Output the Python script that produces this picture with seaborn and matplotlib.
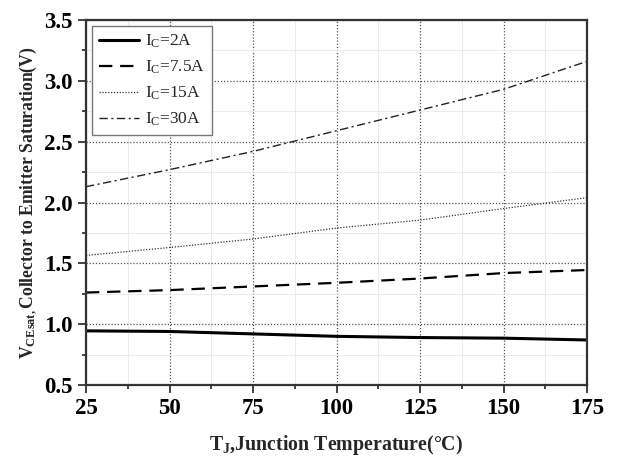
import matplotlib
matplotlib.use("Agg")
import matplotlib.pyplot as plt
import seaborn as sns
import pandas as pd
from matplotlib.ticker import MultipleLocator

temps = [25, 50, 75, 100, 125, 150, 175]
v_2a = [0.945, 0.94, 0.92, 0.90, 0.89, 0.885, 0.87]
v_7p5a = [1.26, 1.28, 1.31, 1.34, 1.375, 1.42, 1.445]
v_15a = [1.565, 1.63, 1.70, 1.79, 1.855, 1.95, 2.04]
v_30a = [2.13, 2.27, 2.42, 2.59, 2.76, 2.93, 3.16]
labels = [r'I$_\mathregular{C}$=2A', r'I$_\mathregular{C}$=7.5A',
          r'I$_\mathregular{C}$=15A', r'I$_\mathregular{C}$=30A']

rows = []
for lab, vals in zip(labels, [v_2a, v_7p5a, v_15a, v_30a]):
    for t, v in zip(temps, vals):
        rows.append({"T": t, "V": v, "series": lab})
df = pd.DataFrame(rows)

sns.set_style("white")
plt.rcParams['font.family'] = ['Liberation Serif', 'DejaVu Serif']
plt.rcParams['mathtext.fontset'] = 'custom'
plt.rcParams['mathtext.rm'] = 'Liberation Serif'
plt.rcParams['mathtext.it'] = 'Liberation Serif'
plt.rcParams['mathtext.bf'] = 'Liberation Serif:bold'

fig = plt.figure(figsize=(6.18, 4.59), dpi=100)
ax = fig.add_axes([86 / 618, 1 - 385 / 459, 501 / 618, 365 / 459])

styles = {labels[0]: "-", labels[1]: (0, (6, 3.5)), labels[2]: (0, (1, 1.3)), labels[3]: (0, (6, 2.5, 1.5, 2.5))}
widths = {labels[0]: 2.2, labels[1]: 1.6, labels[2]: 0.9, labels[3]: 1.0}
colors = {labels[0]: "black", labels[1]: "black", labels[2]: "#333333", labels[3]: "#222222"}
for lab in labels:
    sub = df[df.series == lab]
    sns.lineplot(data=sub, x="T", y="V", ax=ax, color=colors[lab],
                 lw=widths[lab], label=lab, linestyle=styles[lab])

ax.set_xlim(25, 175)
ax.set_ylim(0.5, 3.5)
ax.xaxis.set_major_locator(MultipleLocator(25))
ax.xaxis.set_minor_locator(MultipleLocator(12.5))
ax.yaxis.set_major_locator(MultipleLocator(0.5))
ax.yaxis.set_minor_locator(MultipleLocator(0.25))
ax.grid(True, which="major", color="#555555", linestyle=(0, (1, 1.5)), lw=0.9)
ax.grid(True, which="minor", color="#e8e8e8", linestyle="-", lw=0.6)
ax.set_axisbelow(True)
ax.tick_params(which="major", direction="out", length=6, width=1.2, labelsize=16.5, pad=3.5,
               bottom=True, left=True, colors="#222222", labelcolor="black")
ax.tick_params(which="minor", direction="out", length=3, width=1.2, bottom=True, left=True, colors="#222222")
for lbl in ax.get_xticklabels() + ax.get_yticklabels():
    lbl.set_fontweight("bold")
for s in ax.spines.values():
    s.set_visible(True)
    s.set_color("#333333")
    s.set_linewidth(1.6)

ax.set_xlabel(r'T$_\mathbf{J}$,Junction Temperature(°C)', fontsize=14.3, fontweight="bold", labelpad=10)
ax.set_ylabel(r'V$_\mathbf{CEsat,}$Collector to Emitter Saturation(V)', fontsize=12.7, fontweight="bold", labelpad=3)

leg = ax.legend(loc="upper left", fontsize=12.5, frameon=True, fancybox=False,
                edgecolor="#777777", framealpha=1, handlelength=2.35,
                borderpad=0.38, labelspacing=0.5, handletextpad=0.3,
                borderaxespad=0.35)
leg.get_frame().set_linewidth(1.0)

fig.savefig("out.png", dpi=100)
